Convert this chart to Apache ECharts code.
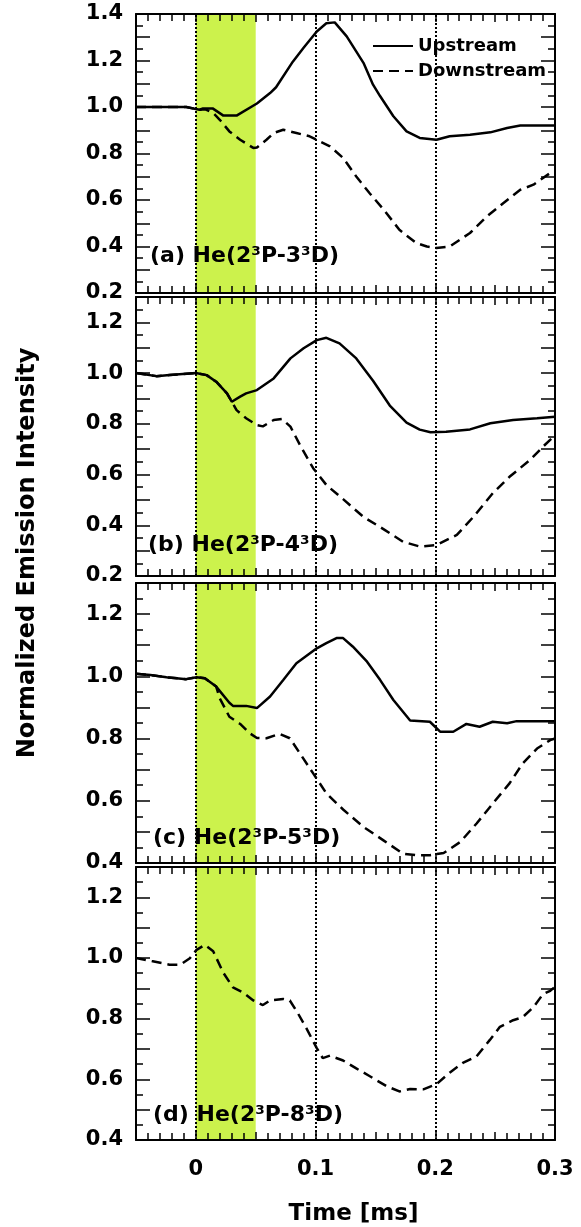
<!DOCTYPE html>
<html>
<head>
<meta charset="utf-8">
<script src="https://cdn.jsdelivr.net/npm/echarts@6/dist/echarts.min.js"></script>
<style>
html,body{margin:0;padding:0;background:#fff;}
#chart{width:581px;height:1227px;}
</style>
</head>
<body>
<div id="chart"></div>
<script>
// ---- Data (time in ms, normalized intensity) ----
const tA_up = [-0.05, -0.008, 0.003, 0.006, 0.014, 0.023, 0.034, 0.051, 0.062, 0.067, 0.081, 0.090, 0.101, 0.109, 0.116, 0.126, 0.140, 0.148, 0.154, 0.165, 0.176, 0.187, 0.201, 0.212, 0.229, 0.246, 0.260, 0.271, 0.300];
const vA_up = [1.00, 1.00, 0.988, 0.994, 0.994, 0.963, 0.963, 1.015, 1.06, 1.085, 1.195, 1.255, 1.325, 1.36, 1.364, 1.304, 1.19, 1.096, 1.046, 0.96, 0.895, 0.867, 0.859, 0.874, 0.881, 0.891, 0.91, 0.92, 0.92];
const tA_dn = [-0.05, -0.008, 0.003, 0.008, 0.0145, 0.020, 0.028, 0.037, 0.048, 0.051, 0.059, 0.065, 0.073, 0.084, 0.095, 0.101, 0.112, 0.123, 0.134, 0.145, 0.157, 0.170, 0.184, 0.193, 0.201, 0.212, 0.229, 0.243, 0.257, 0.271, 0.282, 0.296, 0.300];
const vA_dn = [1.00, 1.00, 0.988, 0.99, 0.974, 0.945, 0.895, 0.859, 0.824, 0.826, 0.859, 0.888, 0.902, 0.888, 0.874, 0.859, 0.831, 0.781, 0.701, 0.63, 0.558, 0.472, 0.415, 0.40, 0.394, 0.40, 0.458, 0.529, 0.587, 0.644, 0.666, 0.716, 0.725];

const tB_up = [-0.05, -0.033, -0.022, 0.0, 0.009, 0.017, 0.026, 0.030, 0.037, 0.042, 0.051, 0.065, 0.079, 0.090, 0.101, 0.109, 0.120, 0.134, 0.148, 0.162, 0.176, 0.187, 0.196, 0.209, 0.229, 0.246, 0.265, 0.285, 0.300];
const vB_up = [1.00, 0.988, 0.992, 1.0, 0.992, 0.966, 0.92, 0.887, 0.907, 0.92, 0.933, 0.979, 1.058, 1.098, 1.13, 1.139, 1.117, 1.058, 0.97, 0.872, 0.805, 0.777, 0.767, 0.769, 0.778, 0.802, 0.815, 0.822, 0.828];
const tB_dn = [-0.05, -0.033, -0.022, 0.0, 0.009, 0.017, 0.026, 0.030, 0.034, 0.042, 0.051, 0.056, 0.065, 0.072, 0.079, 0.087, 0.098, 0.109, 0.123, 0.140, 0.157, 0.173, 0.187, 0.201, 0.218, 0.232, 0.248, 0.262, 0.279, 0.290, 0.300];
const vB_dn = [1.00, 0.988, 0.992, 1.0, 0.992, 0.966, 0.92, 0.887, 0.854, 0.822, 0.795, 0.79, 0.815, 0.819, 0.789, 0.716, 0.625, 0.559, 0.503, 0.433, 0.384, 0.335, 0.316, 0.322, 0.362, 0.434, 0.526, 0.591, 0.657, 0.71, 0.755];

const tC_up = [-0.05, -0.038, -0.0245, -0.008, 0.0006, 0.0075, 0.017, 0.028, 0.031, 0.042, 0.051, 0.062, 0.073, 0.084, 0.101, 0.109, 0.1175, 0.123, 0.131, 0.143, 0.154, 0.165, 0.179, 0.1955, 0.204, 0.215, 0.226, 0.237, 0.248, 0.260, 0.268, 0.300];
const vC_up = [1.008, 1.004, 0.997, 0.991, 0.997, 0.994, 0.967, 0.915, 0.905, 0.905, 0.898, 0.935, 0.988, 1.042, 1.09, 1.107, 1.123, 1.123, 1.096, 1.047, 0.988, 0.924, 0.858, 0.854, 0.822, 0.822, 0.847, 0.838, 0.854, 0.849, 0.856, 0.856];
const tC_dn = [-0.05, -0.038, -0.0245, -0.008, 0.0006, 0.0075, 0.017, 0.020, 0.028, 0.037, 0.045, 0.051, 0.059, 0.070, 0.0785, 0.087, 0.098, 0.109, 0.123, 0.140, 0.157, 0.173, 0.184, 0.1955, 0.207, 0.221, 0.2345, 0.248, 0.262, 0.273, 0.285, 0.296, 0.300];
const vC_dn = [1.008, 1.004, 0.997, 0.991, 0.997, 0.994, 0.967, 0.929, 0.87, 0.847, 0.817, 0.802, 0.801, 0.815, 0.801, 0.752, 0.688, 0.624, 0.572, 0.516, 0.472, 0.43, 0.425, 0.425, 0.432, 0.468, 0.527, 0.591, 0.656, 0.72, 0.768, 0.795, 0.80];

const tD_dn = [-0.05, -0.036, -0.022, -0.013, -0.005, 0.0006, 0.0075, 0.0145, 0.023, 0.031, 0.0395, 0.048, 0.056, 0.062, 0.073, 0.0785, 0.0855, 0.0925, 0.101, 0.106, 0.112, 0.123, 0.134, 0.145, 0.159, 0.170, 0.179, 0.190, 0.201, 0.212, 0.223, 0.2345, 0.2456, 0.254, 0.265, 0.273, 0.282, 0.290, 0.296, 0.300];
const vD_dn = [1.0, 0.989, 0.978, 0.978, 0.999, 1.027, 1.043, 1.022, 0.951, 0.903, 0.886, 0.86, 0.845, 0.86, 0.865, 0.86, 0.816, 0.767, 0.703, 0.67, 0.678, 0.662, 0.636, 0.611, 0.578, 0.56, 0.568, 0.567, 0.584, 0.622, 0.654, 0.676, 0.73, 0.773, 0.795, 0.805, 0.838, 0.881, 0.892, 0.905];

const panelLabels = ['(a) He(2³P-3³D)', '(b) He(2³P-4³D)', '(c) He(2³P-5³D)', '(d) He(2³P-8³D)'];
const yRanges = [[0.2, 1.4], [0.2, 1.3], [0.4, 1.3], [0.4, 1.3]];
const xRange = [-0.05, 0.3];
const markTimes = [0, 0.1, 0.2];
const bandRange = [0, 0.05];
const seriesNames = ['Upstream', 'Downstream'];
const xTitle = 'Time [ms]';
const yTitle = 'Normalized Emission Intensity';

// ---- Layout ----
const FONT = '"DejaVu Sans", sans-serif';
const grids = [
  {left: 136, top: 14, width: 419, height: 279},
  {left: 136, top: 297, width: 419, height: 279},
  {left: 136, top: 583, width: 419, height: 280},
  {left: 136, top: 867, width: 419, height: 278}
];
const labelPos = [[150, 256.5], [148, 545.5], [153, 838], [153, 1115]];

function zip(t, v) { return t.map((x, i) => [x, v[i]]); }

const xAxes = [], yAxes = [];
grids.forEach((g, i) => {
  const isBottom = i === 3;
  const baseX = {
    type: 'value', gridIndex: i, min: xRange[0], max: xRange[1], interval: 0.05, z: 5,
    axisLine: {show: true, onZero: false, lineStyle: {color: '#000', width: 2}},
    axisTick: {show: true, inside: true, length: 8, lineStyle: {color: '#000', width: 1.5}},
    minorTick: {show: true, splitNumber: 5, length: 7, lineStyle: {color: '#000', width: 1.5}},
    splitLine: {show: false}
  };
  xAxes.push(Object.assign({}, baseX, {
    position: 'bottom',
    axisLabel: {
      show: isBottom, margin: 19, color: '#000', fontFamily: FONT, fontWeight: 'bold', fontSize: 21,
      formatter: v => { const k = Math.round(v * 100); if (k === 0) return '0'; if (k > 0 && k % 10 === 0) return (k / 100).toFixed(1); return ''; }
    },
    name: isBottom ? xTitle : '', nameLocation: 'middle', nameGap: 63,
    nameTextStyle: {color: '#000', fontFamily: FONT, fontWeight: 'bold', fontSize: 23, padding: [0, 0, 0, 16]}
  }));
  xAxes.push(Object.assign({}, baseX, {position: 'top', axisLabel: {show: false}}));
  const baseY = {
    type: 'value', gridIndex: i, min: yRanges[i][0], max: yRanges[i][1], interval: 0.1, z: 5,
    axisLine: {show: true, onZero: false, lineStyle: {color: '#000', width: 2}},
    axisTick: {show: true, inside: true, length: 14, lineStyle: {color: '#000', width: 1.5}},
    minorTick: {show: true, splitNumber: 2, length: 7, lineStyle: {color: '#000', width: 1.5}},
    splitLine: {show: false}
  };
  yAxes.push(Object.assign({}, baseY, {
    position: 'left',
    axisLabel: {
      show: true, margin: 13, color: '#000', fontFamily: FONT, fontWeight: 'bold', fontSize: 21,
      formatter: v => { const k = Math.round(v * 10); return k % 2 === 0 ? (k / 10).toFixed(1) : ''; }
    }
  }));
  yAxes.push(Object.assign({}, baseY, {position: 'right', axisLabel: {show: false}}));
});

const lineUp = {color: '#000', width: 2.5, type: 'solid'};
const lineDn = {color: '#000', width: 2.5, type: [10, 6]};

function decorations() {
  return {
    markArea: {silent: true, itemStyle: {color: '#ccf24c'}, data: [[{xAxis: bandRange[0]}, {xAxis: bandRange[1]}]]},
    markLine: {silent: true, symbol: 'none', label: {show: false},
      lineStyle: {color: '#000', width: 2, type: [2, 2]},
      emphasis: {disabled: true},
      data: markTimes.map(t => ({xAxis: t}))}
  };
}

function mkSeries(name, data, gi, style, deco) {
  const s = {
    type: 'line', name: name, data: data, xAxisIndex: gi * 2, yAxisIndex: gi * 2,
    showSymbol: false, symbol: 'none', lineStyle: style, itemStyle: {color: '#000'},
    animation: false, silent: true, z: 3
  };
  if (deco) Object.assign(s, decorations());
  return s;
}

const series = [
  mkSeries(seriesNames[0], zip(tA_up, vA_up), 0, lineUp, true),
  mkSeries(seriesNames[1], zip(tA_dn, vA_dn), 0, lineDn, false),
  mkSeries(seriesNames[0], zip(tB_up, vB_up), 1, lineUp, true),
  mkSeries(seriesNames[1], zip(tB_dn, vB_dn), 1, lineDn, false),
  mkSeries(seriesNames[0], zip(tC_up, vC_up), 2, lineUp, true),
  mkSeries(seriesNames[1], zip(tC_dn, vC_dn), 2, lineDn, false),
  mkSeries(seriesNames[1], zip(tD_dn, vD_dn), 3, lineDn, true)
];

const graphics = panelLabels.map((txt, i) => ({
  type: 'text', x: labelPos[i][0], y: labelPos[i][1], z: 20,
  style: {text: txt, font: 'bold 22px ' + FONT, fill: '#000', align: 'left', verticalAlign: 'middle'}
}));
graphics.push({
  type: 'text', x: 28, y: 553, rotation: Math.PI / 2, z: 20,
  style: {text: yTitle, font: 'bold 24px ' + FONT, fill: '#000', align: 'center', verticalAlign: 'middle'}
});

const chart = echarts.init(document.getElementById('chart'), null, {renderer: 'canvas'});
chart.setOption({
  animation: false,
  backgroundColor: '#fff',
  grid: grids,
  xAxis: xAxes,
  yAxis: yAxes,
  legend: {
    data: seriesNames, orient: 'vertical', left: 367, top: 32, itemWidth: 40, itemHeight: 14, itemGap: 7,
    selectedMode: false,
    itemStyle: {opacity: 0, borderWidth: 0},
    textStyle: {color: '#000', fontFamily: FONT, fontWeight: 'bold', fontSize: 18}
  },
  series: series,
  graphic: graphics
});
</script>
</body>
</html>
